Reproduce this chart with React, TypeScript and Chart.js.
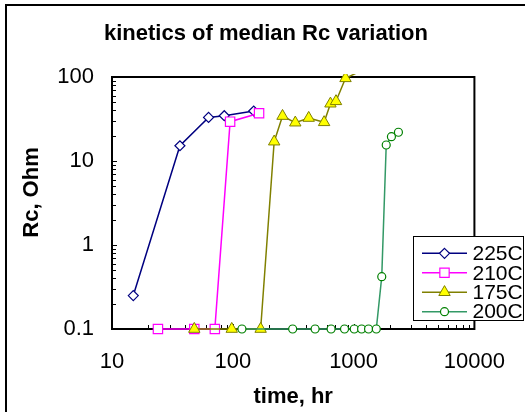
import React, { useEffect, useRef } from 'react';
import { Chart, registerables } from 'chart.js';

Chart.register(...registerables);

// ---------- data ----------
const seriesNames = ['225C', '210C', '175C', '200C'];

const time225 = [15, 36.5, 63, 85, 149];
const rc225 = [0.25, 15.2, 33, 34.6, 39.4];

const time210 = [24, 48, 71, 95, 165];
const rc210 = [0.1, 0.1, 0.1, 29.4, 37];

const time175 = [48, 98, 170, 220, 258, 329, 425, 570, 643, 715, 857, 1200];
const rc175 = [0.1, 0.1, 0.1, 17, 34.3, 28.6, 32.5, 28.9, 48.1, 51.4, 96.5, 122];

const time200 = [119, 313, 480, 651, 841, 1012, 1165, 1330, 1541, 1710, 1862, 2056, 2350];
const rc200 = [0.1, 0.1, 0.1, 0.1, 0.1, 0.1, 0.1, 0.1, 0.1, 0.42, 15.5, 19.5, 22];

const xTickValues = [10, 100, 1000, 10000];
const yTickValues = [0.1, 1, 10, 100];

const chartTitle = 'kinetics of median Rc variation';
const xTitle = 'time, hr';
const yTitle = 'Rc, Ohm';

// ---------- styles ----------
const FONT = '"Liberation Sans", Arial, Helvetica, sans-serif';
const seriesStyles = [
  { line: '#000080', border: '#000080', fill: '#ffffff', shape: 'rectRot', radius: 5, bw: 1.2 },
  { line: '#ff00ff', border: '#ff00ff', fill: '#ffffff', shape: 'rect', radius: 6.6, bw: 1.2 },
  { line: '#808000', border: '#808000', fill: '#ffff00', shape: 'triangle', radius: 6.6, bw: 1 },
  { line: '#339966', border: '#008000', fill: '#ffffff', shape: 'circle', radius: 4, bw: 1.2 },
];

const seriesX = [time225, time210, time175, time200];
const seriesY = [rc225, rc210, rc175, rc200];

function drawMarker(ctx: CanvasRenderingContext2D, shape: string, x: number, y: number, r: number) {
  ctx.beginPath();
  if (shape === 'circle') {
    ctx.arc(x, y, r, 0, Math.PI * 2);
  } else if (shape === 'rect') {
    const s = Math.SQRT1_2 * r;
    ctx.rect(x - s, y - s, 2 * s, 2 * s);
  } else if (shape === 'rectRot') {
    ctx.moveTo(x, y - r);
    ctx.lineTo(x + r, y);
    ctx.lineTo(x, y + r);
    ctx.lineTo(x - r, y);
    ctx.closePath();
  } else if (shape === 'triangle') {
    const a = (2 * Math.PI) / 3;
    ctx.moveTo(x, y - r);
    ctx.lineTo(x + Math.sin(a) * r, y - Math.cos(a) * r);
    ctx.lineTo(x + Math.sin(2 * a) * r, y - Math.cos(2 * a) * r);
    ctx.closePath();
  }
  ctx.fill();
  ctx.stroke();
}

const decorPlugin = {
  id: 'decor',
  beforeDraw(chart: any) {
    const { ctx, width, height, chartArea: a } = chart;
    ctx.save();
    ctx.fillStyle = '#ffffff';
    ctx.fillRect(0, 0, width, height);
    ctx.strokeStyle = '#000000';
    ctx.lineWidth = 2;
    ctx.strokeRect(6, 5, width + 40, height + 40);
    ctx.fillStyle = '#000000';
    ctx.font = `bold 22px ${FONT}`;
    ctx.textAlign = 'center';
    ctx.textBaseline = 'alphabetic';
    ctx.fillText(chartTitle, 266, 40);
    ctx.fillText(xTitle, (a.left + a.right) / 2, 403);
    ctx.translate(37.5, 192.5);
    ctx.rotate(-Math.PI / 2);
    ctx.fillText(yTitle, 0, 0);
    ctx.restore();
  },
  beforeDatasetsDraw(chart: any) {
    const { ctx, chartArea: a, scales } = chart;
    const xs = scales.x;
    const ys = scales.y;
    ctx.save();
    ctx.strokeStyle = '#000000';
    ctx.lineWidth = 1;
    ctx.beginPath();
    for (let e = 1; e < 4; e++) {
      for (let k = 1; k <= 9; k++) {
        const v = k * Math.pow(10, e);
        const px = Math.round(xs.getPixelForValue(v)) + 0.5;
        const len = k === 1 ? 5 : 4;
        ctx.moveTo(px, a.bottom);
        ctx.lineTo(px, a.bottom - len);
      }
    }
    for (let e = -1; e < 2; e++) {
      for (let k = 1; k <= 9; k++) {
        const v = k * Math.pow(10, e);
        const py = Math.round(ys.getPixelForValue(v)) + 0.5;
        const len = k === 1 ? 5 : 4;
        ctx.moveTo(a.left, py);
        ctx.lineTo(a.left + len, py);
      }
    }
    ctx.stroke();
    ctx.lineWidth = 2;
    ctx.strokeRect(a.left, a.top, a.right - a.left, a.bottom - a.top);
    ctx.restore();
  },
  afterDraw(chart: any) {
    const { ctx } = chart;
    ctx.save();
    const bx = 413.5, by = 236.5, bw = 110, bh = 84;
    ctx.fillStyle = '#ffffff';
    ctx.fillRect(bx, by, bw, bh);
    ctx.strokeStyle = '#000000';
    ctx.lineWidth = 1;
    ctx.strokeRect(bx, by, bw, bh);
    ctx.font = `21px ${FONT}`;
    ctx.textAlign = 'left';
    ctx.textBaseline = 'middle';
    seriesNames.forEach((name, i) => {
      const st = seriesStyles[i];
      const y = 253.3 + i * 19.45;
      ctx.strokeStyle = st.line;
      ctx.lineWidth = 1.5;
      ctx.beginPath();
      ctx.moveTo(422, y);
      ctx.lineTo(467, y);
      ctx.stroke();
      ctx.strokeStyle = st.border;
      ctx.fillStyle = st.fill;
      ctx.lineWidth = st.bw;
      drawMarker(ctx, st.shape, 444.5, y, st.radius);
      ctx.fillStyle = '#000000';
      ctx.fillText(name, 472.5, y + 1);
    });
    ctx.restore();
  },
};

export default function App() {
  const canvasRef = useRef<HTMLCanvasElement | null>(null);

  useEffect(() => {
    if (!canvasRef.current) return;
    const datasets = seriesNames.map((name, i) => {
      const st = seriesStyles[i];
      return {
        label: name,
        data: seriesX[i].map((x, j) => ({ x, y: seriesY[i][j] })),
        borderColor: st.line,
        borderWidth: 1.5,
        backgroundColor: st.fill,
        pointBackgroundColor: st.fill,
        pointBorderColor: st.border,
        pointBorderWidth: st.bw,
        pointStyle: st.shape,
        pointRadius: (c: any) => (c.raw && c.raw.y > 100 ? 0 : st.radius),
        pointHoverRadius: st.radius,
        tension: 0,
        fill: false,
        order: seriesNames.length - i,
        clip: { left: 12, right: 12, top: 3, bottom: 12 },
      };
    });

    const chart = new Chart(canvasRef.current, {
      type: 'line',
      data: { datasets },
      options: {
        animation: false,
        responsive: false,
        devicePixelRatio: 1,
        layout: { padding: { left: 0, top: 77, right: 36, bottom: 0 } },
        plugins: {
          legend: { display: false },
          title: { display: false },
          tooltip: { enabled: false },
        },
        scales: {
          x: {
            type: 'logarithmic',
            min: 10,
            max: 10000,
            grid: { display: false, drawTicks: false },
            border: { display: false },
            afterBuildTicks: (s: any) => {
              s.ticks = xTickValues.map((v) => ({ value: v }));
            },
            afterFit: (s: any) => {
              s.height = 83;
            },
            ticks: {
              autoSkip: false,
              maxRotation: 0,
              padding: 20,
              color: '#000000',
              font: { family: FONT, size: 22 },
              callback: (v: any) => String(v),
            },
          },
          y: {
            type: 'logarithmic',
            min: 0.1,
            max: 100,
            grid: { display: false, drawTicks: false },
            border: { display: false },
            afterBuildTicks: (s: any) => {
              s.ticks = yTickValues.map((v) => ({ value: v }));
            },
            afterFit: (s: any) => {
              s.width = 112;
            },
            ticks: {
              autoSkip: false,
              padding: 18,
              color: '#000000',
              font: { family: FONT, size: 22 },
              callback: (v: any) => String(v),
            },
          },
        },
      },
      plugins: [decorPlugin],
    } as any);

    return () => chart.destroy();
  }, []);

  return (
    <div style={{ position: 'fixed', left: 0, top: 0, width: 525, height: 412, background: '#fff' }}>
      <canvas ref={canvasRef} width={525} height={412} style={{ display: 'block', width: 525, height: 412 }} />
    </div>
  );
}
